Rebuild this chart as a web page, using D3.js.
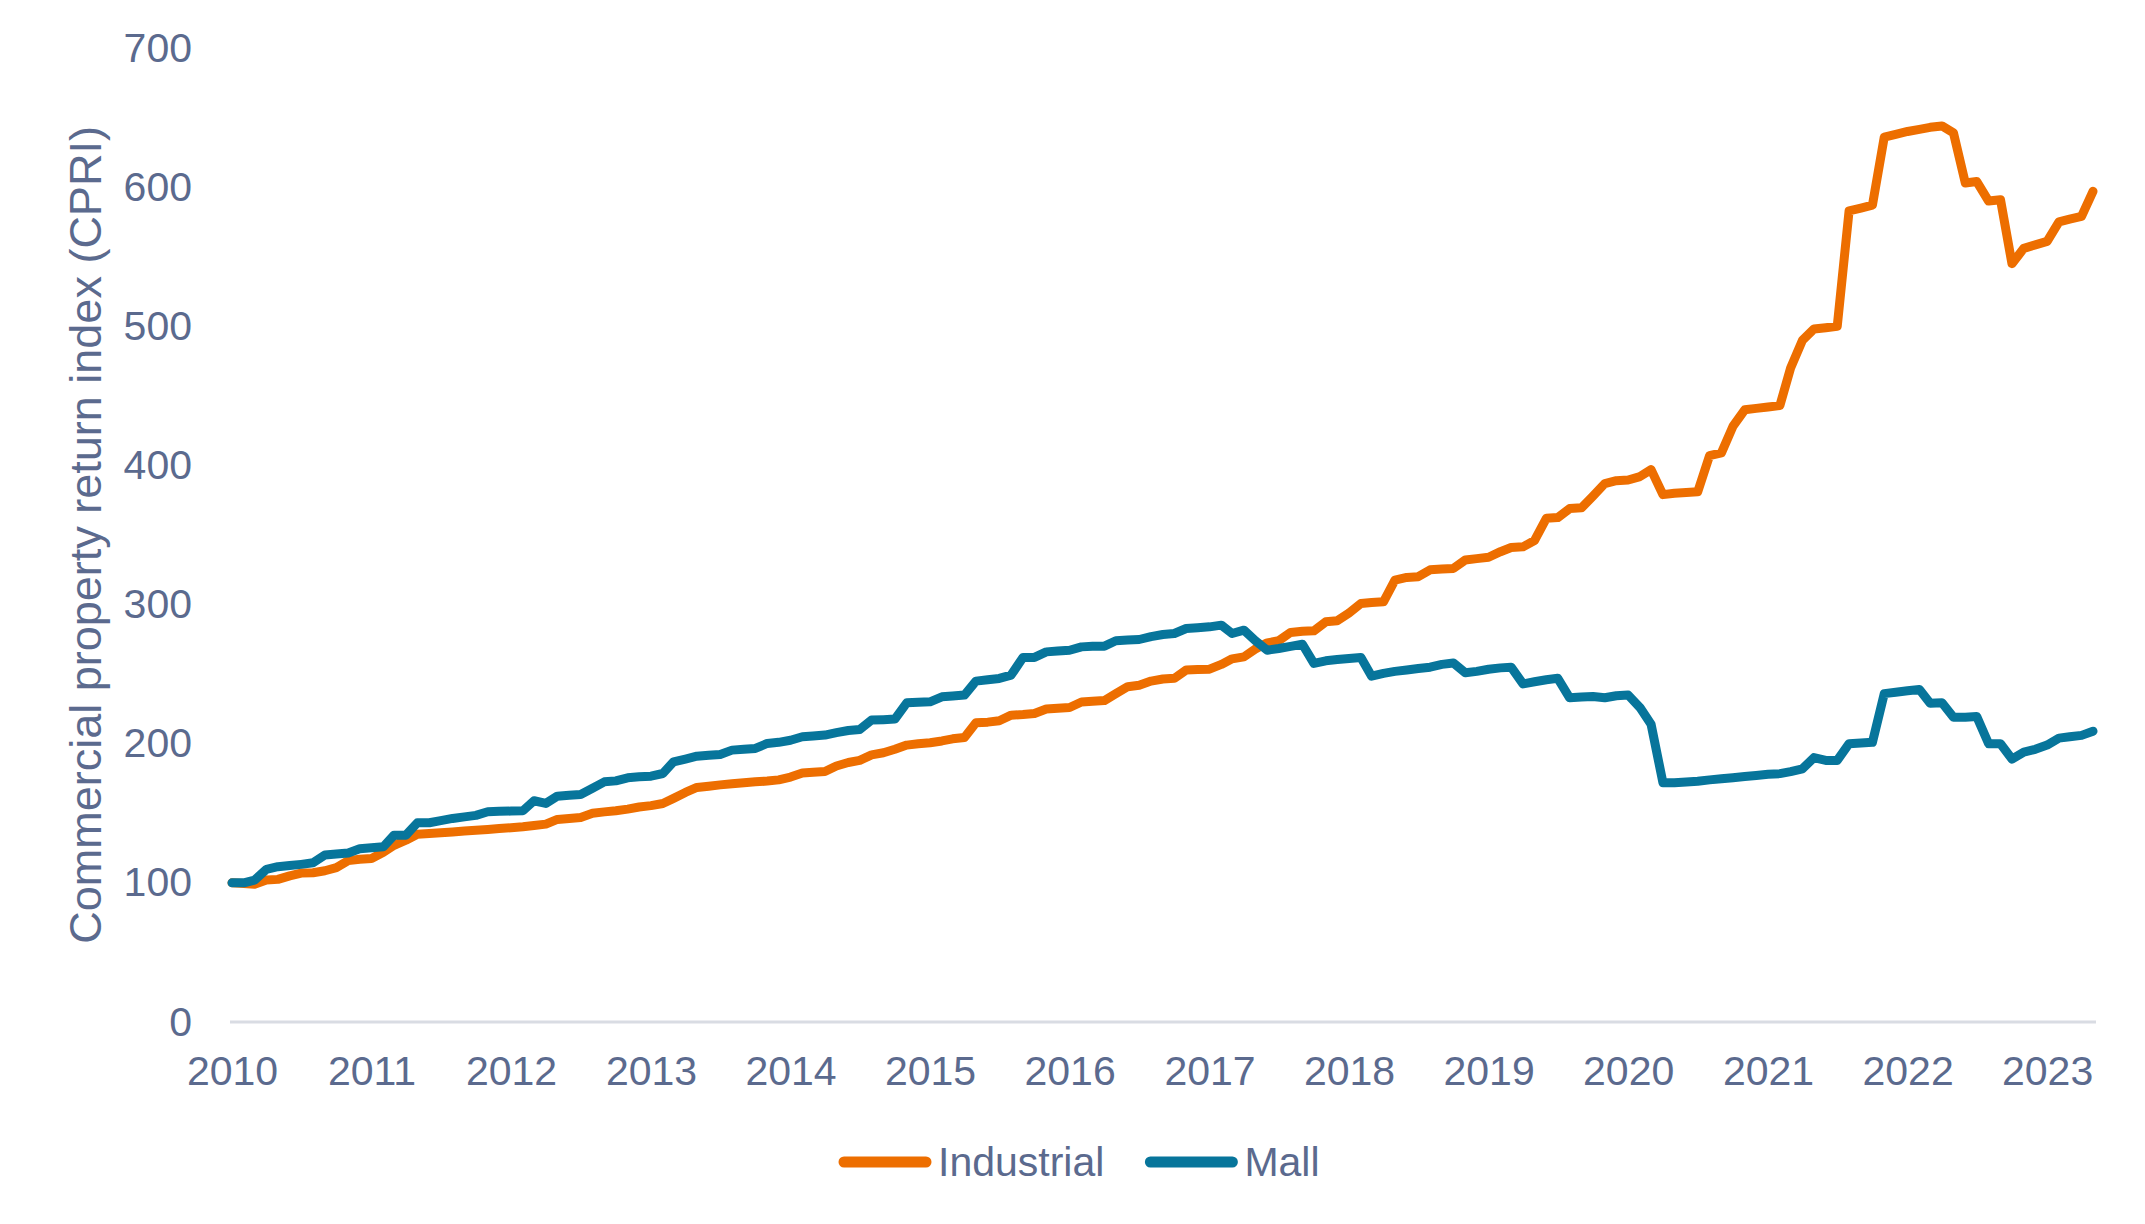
<!DOCTYPE html>
<html>
<head>
<meta charset="utf-8">
<script src="https://cdn.jsdelivr.net/npm/d3@7"></script>
<style>
  body { margin: 0; background: #fff; }
  svg { display: block; }
</style>
</head>
<body>
<svg id="chart" width="2145" height="1224"></svg>
<script>
const seriesNames = ["Industrial", "Mall"]

// monthly index values, Jan 2010 - May 2023
const industrial = [
  100, 99.5, 99, 102, 102.5, 105, 107, 107.3, 108.7, 111, 116, 117,
  117.5, 122, 127, 130.7, 135, 135.5, 136, 136.6, 137.2, 137.8, 138.4, 139,
  139.6, 140.3, 141.2, 142.2, 145.6, 146.3, 147, 150, 151, 151.8, 153, 154.5,
  155.5, 157, 160.7, 165, 168.6, 169.5, 170.4, 171.2, 172, 172.6, 173.2, 174,
  176, 179, 179.5, 180, 184, 186.5, 188, 192, 193.5, 196, 199, 200,
  200.7, 202, 203.5, 204.5, 215, 215.5, 216.5, 220.5, 221, 221.7, 225, 225.5,
  226, 230, 230.5, 231, 236, 241, 242, 245, 246.5, 247, 253, 253.3,
  253.6, 257, 261, 262.4, 268, 272.5, 274, 280, 280.8, 281.1, 287.6, 288.3,
  294, 300.8, 301.5, 302, 317.5, 319.5, 320, 325, 325.5, 326, 332, 333,
  334, 338, 341, 341.5, 346, 362, 362.5, 369, 369.5, 378, 387, 389,
  389.5, 392, 397, 379, 380, 380.5, 381, 407, 409, 428, 440, 441,
  442, 443, 470, 490, 498, 499, 500, 583, 585, 587, 636, 638,
  640, 641.5, 643, 644, 639, 603, 604, 590, 591, 545, 556, 558.5,
  561, 575, 577, 579, 597
]
const mall = [
  100, 100, 102, 109.7, 111.6, 112.4, 113.3, 114.4, 120, 120.7, 121.5, 124.5,
  125.2, 125.9, 134.3, 134.3, 143.2, 143.2, 144.7, 146.3, 147.4, 148.5, 151.1, 151.4,
  151.6, 151.8, 159, 157.1, 162.3, 162.9, 163.5, 168, 172.6, 173.3, 175.5, 176.2,
  176.7, 178.6, 187, 189, 191, 191.7, 192.3, 195.4, 196, 196.6, 200.2, 201,
  202.5, 205, 205.5, 206.2, 208, 209.5, 210.2, 217, 217.3, 217.7, 229.4, 229.8,
  230.1, 233.7, 234.3, 235, 245, 246, 246.9, 249.3, 262, 262, 266, 266.6,
  267.2, 269.6, 270, 270.1, 274, 274.5, 274.9, 277, 278.5, 279.2, 282.8, 283.4,
  284, 285.2, 279.2, 281.6, 274, 267.2, 268.4, 270, 271.5, 257.7, 259.6, 260.5,
  261.3, 262, 248.5, 250.5, 252, 253, 254, 255, 257, 258, 251, 252,
  253.5, 254.5, 255, 243, 244.5, 246, 247, 233, 233.5, 234, 233, 234.5,
  235, 226, 214, 172, 172, 172.5, 173, 174, 174.8, 175.6, 176.4, 177.2,
  178, 178.5, 180, 182, 190, 188, 188, 200, 200.5, 201, 236, 237,
  238, 239, 229, 229.5, 219, 219, 219.5, 200, 200, 189, 194, 196,
  199, 204, 205, 206, 209
]
const yTicks = [0, 100, 200, 300, 400, 500, 600, 700]
const months = d3.timeMonth.range(new Date(2010, 0, 1), new Date(2023, 5, 1))
const yearTicks = d3.timeYear.range(new Date(2010, 0, 1), new Date(2024, 0, 1))

const textColor = "#5B6A8E"
const fontFamily = "'Liberation Sans', Arial, sans-serif"
const fontSize = "41px"
const colors = { Industrial: "#ED6E00", Mall: "#07759B" }
const series = { Industrial: industrial, Mall: mall }

const svg = d3.select("#chart")

const x = d3.scaleTime()
  .domain([months[0], months[months.length - 1]])
  .range([232, 2093])
const y = d3.scaleLinear()
  .domain([0, 700])
  .range([1022, 48])

// y axis labels
svg.append("g")
  .attr("transform", "translate(230,0)")
  .call(d3.axisLeft(y).tickValues(yTicks).tickSize(0).tickPadding(38))
  .call(g => g.select(".domain").remove())
  .selectAll("text")
  .style("font-family", fontFamily)
  .style("font-size", fontSize)
  .style("fill", textColor)

// x axis labels
svg.append("g")
  .attr("transform", "translate(0,1022)")
  .call(d3.axisBottom(x).tickValues(yearTicks).tickFormat(d3.timeFormat("%Y")).tickSize(0).tickPadding(34))
  .call(g => g.select(".domain").remove())
  .selectAll("text")
  .style("font-family", fontFamily)
  .style("font-size", fontSize)
  .style("fill", textColor)

// baseline
svg.append("line")
  .attr("x1", x.range()[0] - 2)
  .attr("x2", x.range()[1] + 3)
  .attr("y1", y(0))
  .attr("y2", y(0))
  .style("stroke", "#D9DCE3")
  .style("stroke-width", 3)

// y title
svg.append("text")
  .attr("transform", "translate(85," + (y(0) + y(700)) / 2 + ") rotate(-90)")
  .attr("text-anchor", "middle")
  .attr("dy", "0.35em")
  .style("font-family", fontFamily)
  .style("font-size", "45px")
  .style("fill", textColor)
  .text("Commercial property return index (CPRI)")

const line = d3.line()
  .x((d, i) => x(months[i]))
  .y(d => y(d))

seriesNames.forEach(name => {
  svg.append("path")
    .datum(series[name])
    .attr("d", line)
    .style("fill", "none")
    .style("stroke", colors[name])
    .style("stroke-width", 9)
    .style("stroke-linejoin", "round")
    .style("stroke-linecap", "round")
})

// legend
let legendX = 838
const legendY = 1162
seriesNames.forEach(name => {
  svg.append("line")
    .attr("x1", legendX + 6)
    .attr("x2", legendX + 88)
    .attr("y1", legendY)
    .attr("y2", legendY)
    .style("stroke", colors[name])
    .style("stroke-width", 11)
    .style("stroke-linecap", "round")
  const t = svg.append("text")
    .attr("x", legendX + 100)
    .attr("y", legendY)
    .attr("dy", "0.35em")
    .style("font-family", fontFamily)
    .style("font-size", fontSize)
    .style("fill", textColor)
    .text(name)
  legendX = legendX + 100 + t.node().getComputedTextLength() + 40
})
</script>
</body>
</html>
